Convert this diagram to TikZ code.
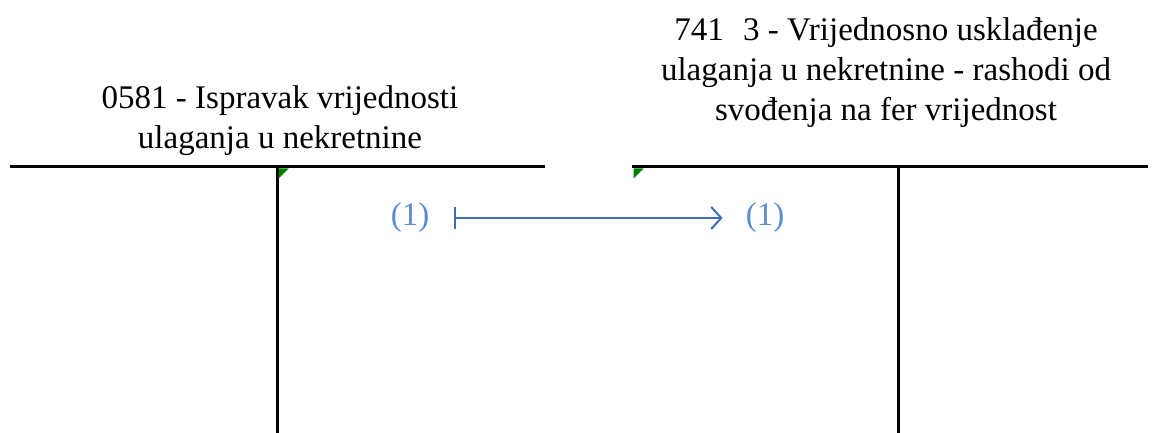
\documentclass[tikz,border=0pt]{standalone}
\usepackage{fontspec}
\setmainfont{Liberation Serif}
\usetikzlibrary{arrows.meta,positioning}

\begin{document}
\begin{tikzpicture}[x=1pt, y=-1pt,
    every node/.style={font=\fontsize{33}{40}\selectfont},
    konto/.style={line width=3pt, black},
    naslov/.style={align=center, inner sep=0pt},
    oznaka/.style={inner sep=0pt, text={rgb,255:red,91;green,140;blue,210}},
    veza/.style={line width=2pt, draw={rgb,255:red,62;green,110;blue,180}}]
  \useasboundingbox (0,0) rectangle (1154,433);
  % the two accounts
  \coordinate (k1l) at (10,167);
  \coordinate (k1r) at (545,167);
  \coordinate (k1t) at (277,167);
  \coordinate (k1b) at (277,433);
  \coordinate (k2l) at (632,167);
  \coordinate (k2r) at (1148,167);
  \coordinate (k2t) at (898,167);
  \coordinate (k2b) at (898,433);
  \foreach \a/\b in {k1l/k1r,k1t/k1b,k2l/k2r,k2t/k2b}{
    \draw[konto] (\a)--(\b);
  }
  \foreach \p in {k1t,k2l}{
    \fill[green!50!black] ([shift={(1.5,1.5)}]\p) -- ++(10,0) -- ++(-10,10) -- cycle;
  }
  \node[naslov] (n1) at (280,121) {0581 - Ispravak vrijednosti\\ulaganja u nekretnine};
  \node[naslov] (n2) at (886,73) {741 \,\,3 - Vrijednosno usklađenje\\ulaganja u nekretnine - rashodi od\\svođenja na fer vrijednost};
  \node[oznaka] (s1) at (410,218) {(1)};
  \node[oznaka] (s2) at (765,218) {(1)};
  \draw[veza, {Bar[width=22pt]}-{Straight Barb[length=10pt, width=22pt]}]
    ([xshift=25pt]s1.east) -- ([xshift=-23pt]s2.west);
\end{tikzpicture}
\end{document}
